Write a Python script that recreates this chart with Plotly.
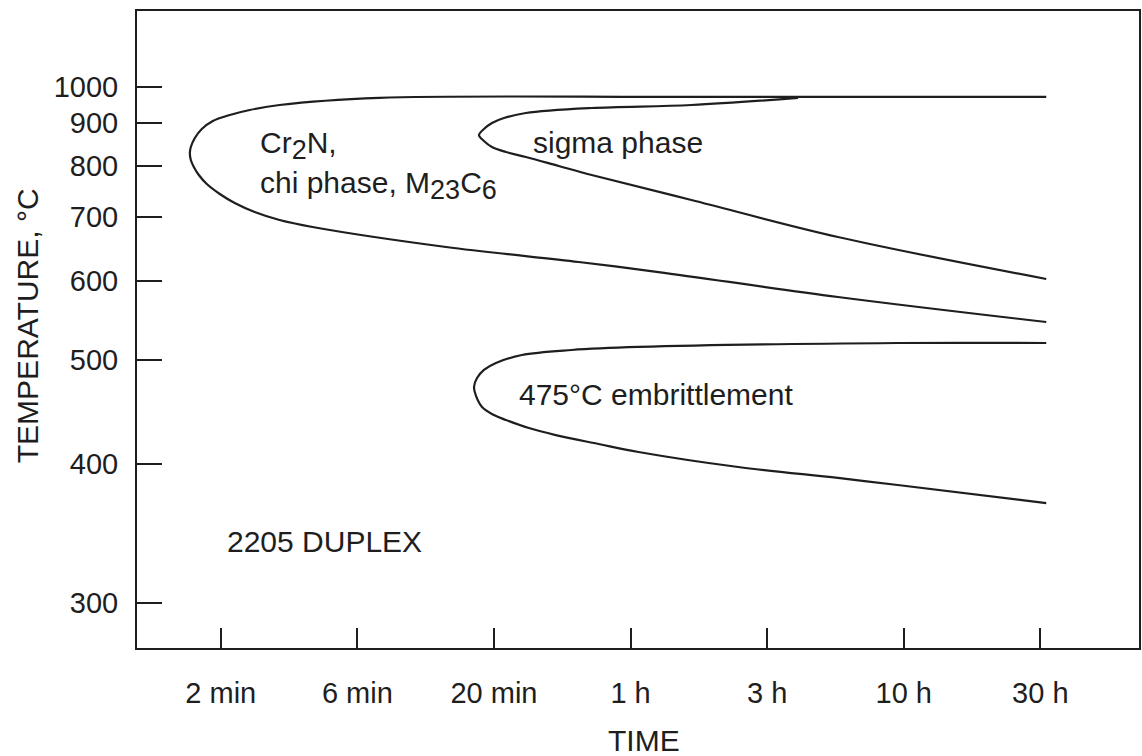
import math
import plotly.graph_objects as go

# ---------------- data (time in minutes, temperature in °C) ----------------
outer_time = [1995, 246.3, 75.93, 7.219, 3.114, 2.421, 2.047, 1.774, 1.617, 1.525, 1.474, 1.462,
              1.474, 1.512, 1.577, 1.687, 1.882, 2.134, 2.525, 3.114, 4.111, 12.67, 38.75, 75.93,
              344.5, 1995]
outer_temp = [971, 971, 971, 968, 947.9, 934.2, 920.8, 905.1, 884.8, 862.8, 841.6, 827.9,
              812.4, 797.3, 780.5, 762.2, 742.7, 725.7, 709.3, 695.1, 683.1, 650.3, 627.1, 612.2,
              577.3, 544.9]

sigma_time = [246.3, 100.2, 43.23, 24.83, 20.64, 18.66, 17.44, 16.73, 17.44, 18.66, 20.99,
              24.83, 32.76, 43.23, 100.2, 344.5, 1995]
sigma_temp = [968, 947.9, 939.7, 926.2, 912.9, 900.0, 884.8, 870.1, 855.7, 841.6, 830.2,
              819.0, 799.4, 780.5, 731.3, 666.4, 602.2]

emb_time = [1995, 570.5, 64.18, 36.54, 24.01, 19.29, 17.44, 16.45, 16.04, 16.31, 17.16, 18.97,
            20.99, 25.46, 31.95, 45.85, 64.18, 148.7, 344.5, 570.5, 1995]
emb_temp = [519.6, 519.6, 515.0, 511.5, 505.8, 496.9, 489.3, 480.7, 471.3, 462.2, 451.3, 443.5,
            438.8, 431.3, 424.9, 416.9, 409.9, 397.1, 388.1, 382.4, 368.3]

time_tick_vals = [1.897, 6, 18.97, 60, 189.7, 600, 1897]
time_tick_text = ["2 min", "6 min", "20 min", "1 h", "3 h", "10 h", "30 h"]
temp_ticks = [300, 400, 500, 600, 700, 800, 900, 1000]

SUB = '<sub><span style="font-size:27px">{}</span></sub>'
labels_text = ["Cr" + SUB.format("2") + "N,",
               "chi phase, M" + SUB.format("23") + "C" + SUB.format("6"),
               "sigma phase", "475°C embrittlement", "2205 DUPLEX"]
labels_time = [2.6, 2.6, 25.9, 23.0, 1.96]
labels_temp = [846, 760, 851, 464, 340]


def recip(temps):
    """Reciprocal absolute temperature scale (1000/K)."""
    return [1000.0 / (t + 273.0) for t in temps]


INK = "#1e1e1e"
FONT = "Liberation Sans, Arial, Helvetica, sans-serif"

fig = go.Figure()
for tx, ty in [(outer_time, outer_temp), (sigma_time, sigma_temp), (emb_time, emb_temp)]:
    fig.add_trace(go.Scatter(x=tx, y=recip(ty), mode="lines",
                             line=dict(color=INK, width=2.2, shape="spline", smoothing=1.0),
                             hoverinfo="skip", showlegend=False))

for txt, tx, ty in zip(labels_text, labels_time, labels_temp):
    fig.add_annotation(x=math.log10(tx), y=1000.0 / (ty + 273.0), text=txt,
                       showarrow=False, xanchor="left", yanchor="middle",
                       font=dict(size=30, color=INK, family=FONT))

L, R, T, B = 137, 1, 11, 108
W, H = 1142, 756
pw = W - L - R
ph = H - T - B

# axis titles
fig.add_annotation(xref="paper", yref="paper", x=(27 - L) / pw, y=(648 - 326) / ph,
                   text="TEMPERATURE, °C", textangle=-90, showarrow=False,
                   xanchor="center", yanchor="middle", font=dict(size=30, color=INK, family=FONT))
fig.add_annotation(xref="paper", yref="paper", x=(645 - L) / pw, y=(648 - 740) / ph,
                   text="TIME", showarrow=False, xanchor="center", yanchor="middle",
                   font=dict(size=30, color=INK, family=FONT))

fig.update_xaxes(type="log", range=[-0.0285, 3.6394],
                 tickvals=time_tick_vals, ticktext=time_tick_text,
                 ticks="inside", ticklen=20, tickwidth=2, tickcolor=INK,
                 showline=True, linecolor=INK, linewidth=2, mirror=True,
                 showgrid=False, zeroline=False, ticklabelstandoff=18,
                 tickfont=dict(size=29, color=INK, family=FONT))
fig.update_yaxes(range=[1.8289, 0.6442],
                 tickvals=recip(temp_ticks), ticktext=[str(t) for t in temp_ticks],
                 ticks="inside", ticklen=25, tickwidth=2, tickcolor=INK,
                 showline=True, linecolor=INK, linewidth=2, mirror=True,
                 showgrid=False, zeroline=False, ticklabelstandoff=11,
                 tickfont=dict(size=29, color=INK, family=FONT))

fig.update_layout(width=W, height=H, margin=dict(l=L, r=R, t=T, b=B),
                  paper_bgcolor="white", plot_bgcolor="white", showlegend=False)

fig.write_html("out.html")
